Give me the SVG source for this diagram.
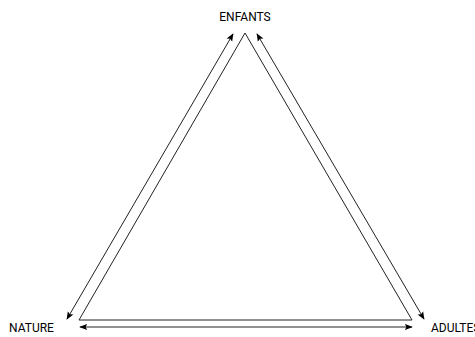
<svg xmlns="http://www.w3.org/2000/svg" width="475" height="337" viewBox="0 0 475 337">
<style>
.lbl{font-family:Roboto,"Open Sans","Liberation Sans",sans-serif;font-size:12px;fill:#000}
.ln{stroke:#222;stroke-width:1;fill:none}
</style>
<defs>
<marker id="ah" viewBox="0 0 10 10" refX="9" refY="5" markerWidth="8" markerHeight="8" markerUnits="userSpaceOnUse" orient="auto-start-reverse">
<path d="M0,1 L10,5 L0,9 L2,5 Z" fill="#000"/>
</marker>
</defs>
<rect width="475" height="337" fill="#fff"/>
<g id="triangle">
<polygon class="ln" points="245,33 79,320 412,320"/>
</g>
<g id="connectors">
<line class="ln" x1="233" y1="34" x2="67" y2="319" marker-start="url(#ah)" marker-end="url(#ah)"/>
<line class="ln" x1="257" y1="34" x2="424" y2="319" marker-start="url(#ah)" marker-end="url(#ah)"/>
<line class="ln" x1="80" y1="327" x2="412" y2="327" marker-start="url(#ah)" marker-end="url(#ah)"/>
</g>
<g id="enfants"><text class="lbl" x="245" y="21" text-anchor="middle">ENFANTS</text></g>
<g id="nature"><text class="lbl" x="9" y="332">NATURE</text></g>
<g id="adultes"><text class="lbl" x="431" y="332">ADULTES</text></g>
</svg>
